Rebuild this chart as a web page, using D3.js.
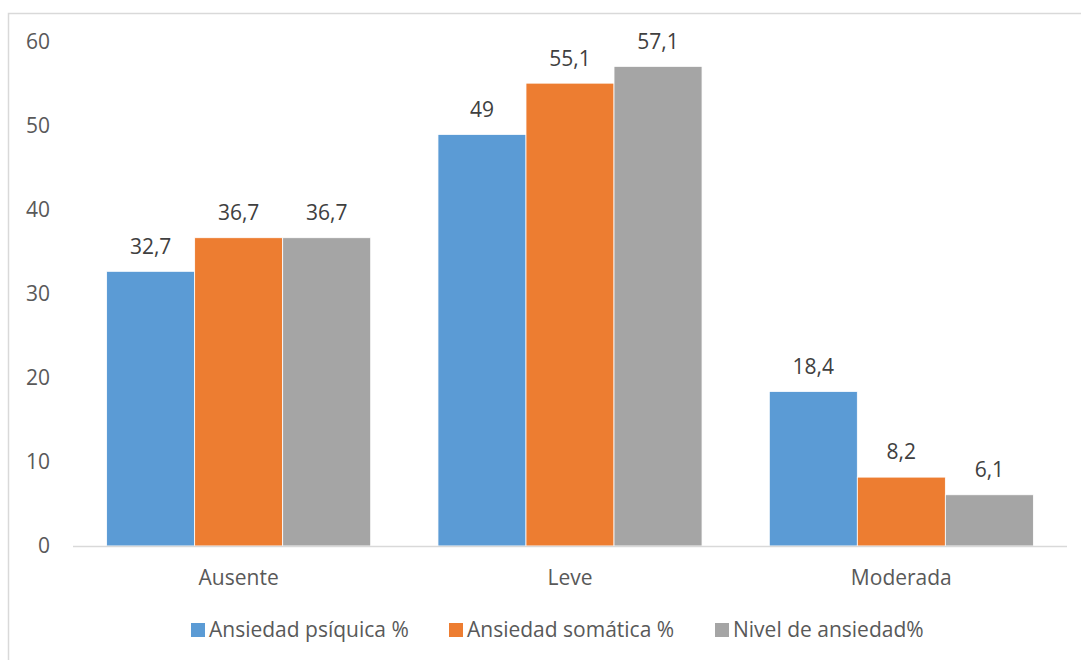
<!DOCTYPE html>
<html><head><meta charset="utf-8">
<script src="https://cdn.jsdelivr.net/npm/d3@7"></script>
<style>body{margin:0;background:#fff}svg{display:block}</style>
</head><body>
<svg id="c" width="1081" height="660"></svg>
<script>
const categories = ["Ausente", "Leve", "Moderada"];
const seriesNames = ["Ansiedad psíquica %", "Ansiedad somática %", "Nivel de ansiedad%"];
const psiquica = [32.7, 49, 18.4];
const somatica = [36.7, 55.1, 8.2];
const nivel = [36.7, 57.1, 6.1];
const yTicks = [0, 10, 20, 30, 40, 50, 60];
const colors = ["#5b9bd5", "#ed7d31", "#a5a5a5"];
const series = [psiquica, somatica, nivel];

const svg = d3.select("#c");
const font = "'Open Sans', sans-serif";
const fs = 21;
svg.append("rect").attr("x", 8.5).attr("y", 13.5).attr("width", 1080).attr("height", 660)
  .attr("fill", "#fff").attr("stroke", "#d9d9d9").attr("stroke-width", 1.5);

const x0 = d3.scaleBand().domain(categories).range([73, 1067]).paddingInner(0.203).paddingOuter(0.1015);
const x1 = d3.scaleBand().domain(d3.range(3)).range([0, x0.bandwidth()]);
const y = d3.scaleLinear().domain([0, 60]).range([546, 42]);

// y labels
svg.append("g").selectAll("text").data(yTicks).join("text")
  .attr("x", 50).attr("y", d => y(d)).attr("dy", "0.35em").attr("text-anchor", "end")
  .attr("font-family", font).attr("font-size", fs).attr("fill", "#595959").text(d => d);

const g = svg.append("g");
series.forEach((vals, si) => {
  g.selectAll(".b" + si).data(vals).join("rect")
    .attr("x", (d, i) => x0(categories[i]) + x1(si))
    .attr("y", d => y(d)).attr("width", x1.bandwidth()).attr("height", d => y(0) - y(d))
    .attr("fill", colors[si]).attr("stroke", "#fff").attr("stroke-width", 0.8);
  g.selectAll(".l" + si).data(vals).join("text")
    .attr("x", (d, i) => x0(categories[i]) + x1(si) + x1.bandwidth() / 2)
    .attr("y", d => y(d) - 25).attr("dy", "0.35em").attr("text-anchor", "middle")
    .attr("font-family", font).attr("font-size", fs).attr("fill", "#404040")
    .text(d => String(d).replace(".", ","));
});

// x axis line
svg.append("line").attr("x1", 73).attr("x2", 1067).attr("y1", y(0) + 0.5).attr("y2", y(0) + 0.5)
  .attr("stroke", "#d9d9d9").attr("stroke-width", 1.5);
svg.append("g").selectAll("text").data(categories).join("text")
  .attr("x", d => x0(d) + x0.bandwidth() / 2).attr("y", 578).attr("dy", "0.35em")
  .attr("text-anchor", "middle").attr("font-family", font).attr("font-size", fs)
  .attr("fill", "#595959").text(d => d);

// legend
const legX = [191, 449, 715];
const leg = svg.append("g");
seriesNames.forEach((n, i) => {
  leg.append("rect").attr("x", legX[i]).attr("y", 623).attr("width", 14).attr("height", 14).attr("fill", colors[i]);
  leg.append("text").attr("x", legX[i] + 18).attr("y", 630).attr("dy", "0.35em")
    .attr("font-family", font).attr("font-size", fs).attr("fill", "#595959").text(n);
});
</script>
</body></html>
